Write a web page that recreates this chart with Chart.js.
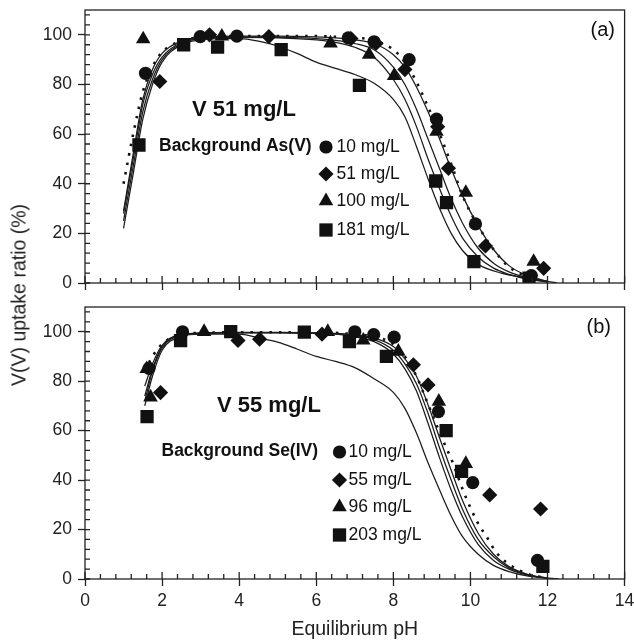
<!DOCTYPE html>
<html><head><meta charset="utf-8">
<script src="https://cdn.jsdelivr.net/npm/chart.js@4.4.0/dist/chart.umd.min.js"></script>
<style>
html,body{margin:0;padding:0;background:#fff;}
#wrap{position:relative;width:634px;height:643px;overflow:hidden;background:#fff;}
#ca{position:absolute;left:0;top:0;}
#cb{position:absolute;left:0;top:295px;}
#ytitle{position:absolute;left:19px;top:295px;transform:translate(-50%,-50%) rotate(-90deg);font:19.5px 'Liberation Sans',Arial,sans-serif;color:#222;white-space:nowrap;}
</style></head>
<body><div id="wrap">
<canvas id="ca" width="634" height="295"></canvas>
<canvas id="cb" width="634" height="348"></canvas>
<div id="ytitle">V(V) uptake ratio (%)</div>
</div>
<script>
// ---------- axis ticks ----------
const xTicks = [0, 2, 4, 6, 8, 10, 12, 14];
const yTicks = [0, 20, 40, 60, 80, 100];
const X_MIN = 0, X_MAX = 14, Y_MIN = 0, Y_MAX = 110;
const X_MINOR = 0.4, Y_MINOR = 4;

// ---------- panel (a): V 51 mg/L, background As(V) ----------
const aLegend = ['10 mg/L', '51 mg/L', '100 mg/L', '181 mg/L'];
const aCircleX = [1.57, 2.99, 3.94, 6.83, 7.5, 8.41, 9.12, 10.13, 11.58];
const aCircleY = [84.5, 99.3, 99.5, 98.8, 97.2, 90, 66, 23.8, 3];
const aDiamondX = [1.94, 3.23, 4.77, 6.9, 7.55, 8.3, 9.15, 9.43, 10.39, 11.9];
const aDiamondY = [81.2, 100, 99.3, 98.5, 96.5, 86, 63, 46.2, 14.9, 5.9];
const aTriangleX = [1.51, 3.55, 6.37, 7.37, 8.02, 9.12, 9.88, 11.64];
const aTriangleY = [98.3, 99.4, 96.6, 92, 83.5, 61, 36.4, 8.6];
const aSquareX = [1.4, 2.56, 3.44, 5.09, 7.12, 9.1, 9.38, 10.09, 11.52];
const aSquareY = [55.6, 96, 95, 94, 79.6, 41.1, 32.4, 8.6, 2];

const aFit181X = [1.0, 1.25, 1.5, 1.75, 2.0, 2.5, 3.0, 3.5, 4.0, 4.5, 5.0, 5.5, 6.0, 6.5, 7.0, 7.5, 8.0, 8.3, 8.6, 8.9, 9.2, 9.5, 9.8, 10.2, 10.8, 11.5, 12.0];
const aFit181Y = [22, 44, 66, 80, 89, 96, 98, 98.5, 98.5, 97.5, 95.5, 92.5, 89, 86.5, 84, 80.5, 74, 67, 55, 42, 30, 20, 13, 7.5, 4, 2, 0.8];
const aFit100X = [1.0, 1.25, 1.5, 1.75, 2.0, 2.5, 3.0, 4.0, 5.0, 6.0, 6.5, 7.0, 7.5, 8.0, 8.3, 8.6, 8.9, 9.2, 9.5, 9.8, 10.2, 10.6, 11.0, 11.5, 12.0];
const aFit100Y = [25, 47, 69, 82, 90, 96.5, 98.5, 99, 98.8, 98, 97, 95, 91, 82, 74, 63, 50, 38, 27, 18, 10.5, 6, 3.5, 1.5, 0.5];
const aFit51X = [1.0, 1.25, 1.5, 1.75, 2.0, 2.5, 3.0, 4.0, 5.0, 6.0, 6.5, 7.0, 7.5, 8.0, 8.3, 8.6, 8.9, 9.2, 9.5, 9.8, 10.2, 10.6, 11.0, 11.5, 12.0];
const aFit51Y = [28, 50, 72, 84, 91, 97, 98.8, 99.2, 99, 98.5, 97.8, 96.5, 94, 87, 80, 70, 58, 46, 34, 24, 14, 8, 4.5, 2, 0.5];
const aFit10X = [1.0, 1.25, 1.5, 1.75, 2.0, 2.5, 3.0, 4.0, 5.0, 6.0, 6.5, 7.0, 7.5, 8.0, 8.3, 8.6, 8.9, 9.2, 9.5, 9.8, 10.2, 10.6, 11.0, 11.5, 12.0, 12.25];
const aFit10Y = [29, 52, 74, 86, 92.5, 97.5, 99, 99.5, 99.5, 99.2, 98.8, 98, 96.5, 92, 87, 79, 69, 58, 46, 35, 23, 13.5, 7, 2.8, 0.7, 0];
const aFitDotX = [1.0, 1.25, 1.5, 1.75, 2.0, 2.5, 3.0, 4.0, 5.0, 6.0, 6.5, 7.0, 7.5, 8.0, 8.3, 8.6, 8.9, 9.2, 9.5, 9.8, 10.2, 10.6, 11.0, 11.5, 12.0];
const aFitDotY = [40, 60, 77, 87, 93, 97.5, 99, 99.5, 99.5, 99.5, 99.2, 98.8, 97.8, 94, 89, 81, 71, 60, 48, 35, 23, 13.5, 6.5, 2.5, 0.5];

// ---------- panel (b): V 55 mg/L, background Se(IV) ----------
const bLegend = ['10 mg/L', '55 mg/L', '96 mg/L', '203 mg/L'];
const bCircleX = [1.66, 2.53, 7.0, 7.49, 8.02, 9.17, 10.06, 11.74];
const bCircleY = [85.2, 100, 100, 98.8, 97.8, 67.7, 39, 7.5];
const bDiamondX = [1.96, 3.97, 4.53, 6.15, 8.52, 8.9, 10.5, 11.82];
const bDiamondY = [75.4, 96.5, 97, 99, 86.6, 78.5, 34, 28.3];
const bTriangleX = [1.6, 1.7, 3.09, 6.3, 7.22, 8.13, 9.18, 9.88];
const bTriangleY = [85, 73.5, 100, 100, 96.5, 92, 71.8, 46.6];
const bSquareX = [1.61, 2.48, 3.78, 5.69, 6.86, 7.82, 9.37, 9.77, 11.88];
const bSquareY = [65.7, 96.4, 100, 99.8, 96, 90, 60, 43.5, 5.1];

const bFit203X = [1.55, 1.75, 2.0, 2.5, 3.0, 4.0, 4.5, 5.0, 5.5, 6.0, 6.5, 7.0, 7.5, 8.0, 8.3, 8.6, 8.9, 9.2, 9.5, 9.8, 10.2, 10.6, 11.0, 11.5, 12.3];
const bFit203Y = [70, 82, 92.5, 98, 99, 99, 97.5, 95.8, 93, 90, 88, 85.5, 81, 75.5, 69, 59, 47, 36, 25.5, 17, 10, 5.5, 3, 1.2, 0];
const bFitX = [1.55, 1.75, 2.0, 2.5, 3.0, 4.0, 5.0, 6.0, 6.5, 7.0, 7.5, 8.0, 8.3, 8.6, 8.9, 9.2, 9.5, 9.8, 10.2, 10.6, 11.0, 11.5, 12.0];
const bFit96Y = [72, 84, 93.5, 98.5, 99.3, 99.5, 99.5, 99.3, 99, 98, 96, 91, 85, 76, 63, 49, 36, 25, 14, 7.5, 4, 1.5, 0.3];
const bFit55Y = [74, 85, 94, 98.7, 99.4, 99.6, 99.6, 99.4, 99.2, 98.4, 96.8, 92.5, 87, 79, 67, 53, 40, 28, 16, 9, 4.5, 1.7, 0.3];
const bFit10Y = [78, 87, 94.5, 99, 99.5, 99.7, 99.7, 99.5, 99.3, 98.7, 97.5, 94, 89, 82, 70.5, 57, 44, 31.5, 18.5, 10, 5, 1.8, 0.3];
const bFitDotX = [1.55, 1.75, 2.0, 2.5, 3.0, 4.0, 5.0, 6.0, 7.0, 7.5, 8.0, 8.3, 8.6, 8.84, 9.1, 9.36, 9.53, 9.83, 10.18, 10.44, 10.65, 10.95, 11.5, 12.0];
const bFitDotY = [84, 90, 95, 99, 99.5, 99.8, 99.8, 99.8, 99, 98, 95, 90, 82, 73, 63, 53.5, 47.5, 35, 23, 16.6, 11.2, 6.5, 2, 0.4];

// ---------- styling ----------
const FONT = "'Liberation Sans', Arial, sans-serif";
const INK = '#111';
const AXIS = '#222';
const MARK = {
  circle: {pointStyle: 'circle', radius: 6.6},
  rectRot: {pointStyle: 'rectRot', radius: 7.6},
  triangle: {pointStyle: 'triangle', radius: 8.4},
  rect: {pointStyle: 'rect', radius: 9.4}
};

const zip = (xs, ys) => xs.map((x, i) => ({x: x, y: ys[i]}));

function markerSet(label, xs, ys, m) {
  return {label, data: zip(xs, ys), showLine: false, pointStyle: m.pointStyle,
    pointRadius: m.radius, pointHoverRadius: m.radius,
    pointBackgroundColor: INK, pointBorderColor: INK, pointBorderWidth: 0, order: 0};
}
function fitSet(label, xs, ys, dotted) {
  return {label, data: zip(xs, ys), showLine: true, pointRadius: 0,
    borderColor: dotted ? '#111' : '#1c1c1c', borderWidth: dotted ? 2.6 : 1.25,
    borderDash: dotted ? [2.5, 7] : [], cubicInterpolationMode: 'monotone', fill: false, order: 1};
}

const framePlugin = {
  id: 'frame',
  afterDatasetsDraw(chart) {
    const {ctx, chartArea: a, scales: {x, y}} = chart;
    ctx.save();
    ctx.strokeStyle = AXIS;
    ctx.lineWidth = 1.3;
    ctx.strokeRect(a.left, a.top, a.right - a.left, a.bottom - a.top);
    ctx.beginPath();
    for (const v of xTicks) {
      const p = x.getPixelForValue(v);
      ctx.moveTo(p, a.bottom); ctx.lineTo(p, a.bottom - 7);
    }
    for (let v = X_MIN + X_MINOR; v < X_MAX - 1e-6; v += X_MINOR) {
      const p = x.getPixelForValue(v);
      ctx.moveTo(p, a.bottom); ctx.lineTo(p, a.bottom - 5);
    }
    for (const v of yTicks) {
      const p = y.getPixelForValue(v);
      ctx.moveTo(a.left, p); ctx.lineTo(a.left + 5, p);
    }
    for (let v = Y_MIN + Y_MINOR; v < Y_MAX - 1e-6; v += Y_MINOR) {
      const p = y.getPixelForValue(v);
      ctx.moveTo(a.left, p); ctx.lineTo(a.left + 5, p);
    }
    ctx.stroke();
    ctx.restore();
  }
};

const annotPlugin = {
  id: 'annot',
  afterDraw(chart, args, opts) {
    const ctx = chart.ctx;
    ctx.save();
    ctx.fillStyle = INK;
    ctx.textBaseline = 'middle';
    for (const t of opts.texts || []) {
      ctx.font = t.font;
      ctx.textAlign = t.align || 'left';
      ctx.fillText(t.text, t.x, t.y);
    }
    const L = opts.legend;
    if (L) {
      ctx.font = L.font;
      ctx.textAlign = 'left';
      L.labels.forEach((lab, i) => {
        const m = L.marks[i];
        ctx.fillStyle = INK;
        Chart.helpers.drawPoint(ctx, {pointStyle: m.pointStyle, radius: m.radius, rotation: 0, borderWidth: 0}, L.mx, L.ys[i]);
        ctx.fillStyle = INK;
        ctx.fillText(lab, L.tx, L.ys[i]);
      });
    }
    ctx.restore();
  }
};

function makeChart(canvasId, datasets, cfg) {
  return new Chart(document.getElementById(canvasId), {
    type: 'scatter',
    data: {datasets},
    plugins: [framePlugin, annotPlugin],
    options: {
      responsive: false, animation: false, events: [],
      layout: {padding: {left: 0, right: 8, top: cfg.top, bottom: 0}},
      plugins: {legend: {display: false}, tooltip: {enabled: false}, annot: cfg.annot},
      scales: {
        x: {
          type: 'linear', min: X_MIN, max: X_MAX,
          afterBuildTicks: s => { s.ticks = xTicks.map(v => ({value: v})); },
          afterFit: s => { s.height = cfg.xHeight; s.paddingLeft = 0; s.paddingRight = 0; },
          border: {display: false},
          grid: {display: true, drawOnChartArea: false, drawTicks: true, tickLength: 7, tickColor: AXIS, tickWidth: 1.3, color: AXIS},
          ticks: {display: cfg.xLabels, padding: 5, color: '#222', font: {family: FONT, size: 17.5}, maxRotation: 0},
          title: {display: cfg.xLabels, text: 'Equilibrium pH', color: '#222', font: {family: FONT, size: 19.5}, padding: {top: 0, bottom: 2}}
        },
        y: {
          type: 'linear', min: Y_MIN, max: Y_MAX,
          afterBuildTicks: s => { s.ticks = yTicks.map(v => ({value: v})); },
          afterFit: s => { s.width = 85; s.paddingTop = 0; s.paddingBottom = 0; },
          border: {display: false},
          grid: {display: true, drawOnChartArea: false, drawTicks: true, tickLength: 7, tickColor: AXIS, tickWidth: 1.3, color: AXIS},
          ticks: {padding: 6, color: '#222', font: {family: FONT, size: 17.5}}
        }
      }
    }
  });
}

const aMarks = [MARK.circle, MARK.rectRot, MARK.triangle, MARK.rect];

makeChart('ca', [
  fitSet('fit 181', aFit181X, aFit181Y, false),
  fitSet('fit 100', aFit100X, aFit100Y, false),
  fitSet('fit 51', aFit51X, aFit51Y, false),
  fitSet('fit 10', aFit10X, aFit10Y, false),
  fitSet('fit dotted', aFitDotX, aFitDotY, true),
  markerSet(aLegend[0], aCircleX, aCircleY, MARK.circle),
  markerSet(aLegend[1], aDiamondX, aDiamondY, MARK.rectRot),
  markerSet(aLegend[2], aTriangleX, aTriangleY, MARK.triangle),
  markerSet(aLegend[3], aSquareX, aSquareY, MARK.rect)
], {
  top: 10, xHeight: 12, xLabels: false,
  annot: {
    texts: [
      {text: 'V 51 mg/L', x: 192, y: 110, font: "bold 22px " + FONT},
      {text: 'Background As(V)', x: 159, y: 146, font: "bold 17.5px " + FONT},
      {text: '(a)', x: 615, y: 30, font: "20px " + FONT, align: 'right'}
    ],
    legend: {labels: aLegend, marks: aMarks, mx: 326, tx: 336.5, ys: [147, 174, 201, 230], font: "17.5px " + FONT}
  }
});

makeChart('cb', [
  fitSet('fit 203', bFit203X, bFit203Y, false),
  fitSet('fit 96', bFitX, bFit96Y, false),
  fitSet('fit 55', bFitX, bFit55Y, false),
  fitSet('fit 10', bFitX, bFit10Y, false),
  fitSet('fit dotted', bFitDotX, bFitDotY, true),
  markerSet(bLegend[0], bCircleX, bCircleY, MARK.circle),
  markerSet(bLegend[1], bDiamondX, bDiamondY, MARK.rectRot),
  markerSet(bLegend[2], bTriangleX, bTriangleY, MARK.triangle),
  markerSet(bLegend[3], bSquareX, bSquareY, MARK.rect)
], {
  top: 12, xHeight: 64, xLabels: true,
  annot: {
    texts: [
      {text: 'V 55 mg/L', x: 217, y: 111, font: "bold 22px " + FONT},
      {text: 'Background Se(IV)', x: 161.5, y: 156, font: "bold 17.5px " + FONT},
      {text: '(b)', x: 611, y: 32, font: "20px " + FONT, align: 'right'}
    ],
    legend: {labels: bLegend, marks: aMarks, mx: 339.5, tx: 348.5, ys: [157, 185, 212, 240], font: "17.5px " + FONT}
  }
});
</script>
</body></html>
